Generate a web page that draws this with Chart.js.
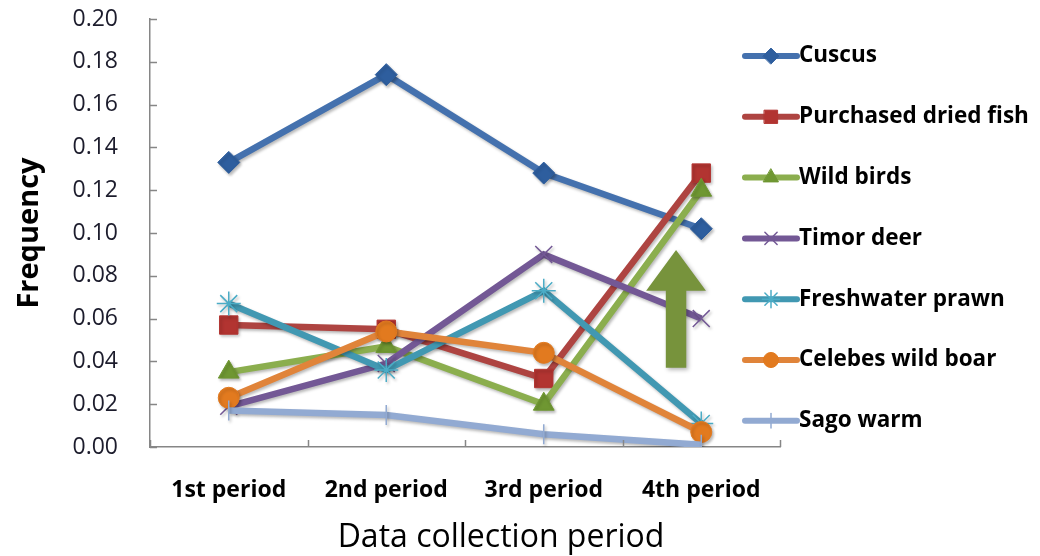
<!DOCTYPE html>
<html>
<head>
<meta charset="utf-8">
<script src="https://cdn.jsdelivr.net/npm/chart.js@4/dist/chart.umd.min.js"></script>
<style>
  html, body { margin: 0; padding: 0; background: #fff; }
  #wrap { width: 1040px; height: 556px; }
</style>
</head>
<body>
<div id="wrap"><canvas id="freqChart" width="1040" height="556"></canvas></div>
<script>
/* ==========================================================
   DATA
========================================================== */

const periods = ["1st period", "2nd period", "3rd period", "4th period"];

const seriesNames = [
    "Cuscus",
    "Purchased dried fish",
    "Wild birds",
    "Timor deer",
    "Freshwater prawn",
    "Celebes wild boar",
    "Sago warm"
];

const cuscus     = [0.133, 0.174, 0.128, 0.102];
const driedFish  = [0.057, 0.055, 0.032, 0.128];
const wildBirds  = [0.035, 0.047, 0.020, 0.120];
const timorDeer  = [0.019, 0.039, 0.090, 0.060];
const prawn      = [0.067, 0.036, 0.073, 0.011];
const wildBoar   = [0.023, 0.054, 0.044, 0.007];
const sagoWarm   = [0.017, 0.015, 0.006, 0.001];

const yTicks = [0, 0.02, 0.04, 0.06, 0.08, 0.10, 0.12, 0.14, 0.16, 0.18, 0.20];


/* ==========================================================
   STYLES
========================================================== */

const FONT = "'Open Sans', Lato, Arial, sans-serif";
const AXIS_GREY = "#868686";

const seriesStyle = [
    { line: "#4471AE", fill: "#2E5E9E", point: "rectRot",  radius: 11, bw: 1 },
    { line: "#AE4441", fill: "#B23431", point: "rect",     radius: 13, bw: 1 },
    { line: "#8BAE4E", fill: "#6F9732", point: "triangle", radius: 12, bw: 1 },
    { line: "#735895", fill: "#735895", point: "crossRot", radius: 12, bw: 1.5 },
    { line: "#4198B2", fill: "#4BACC6", point: "star",     radius: 12, bw: 1.5 },
    { line: "#E0843A", fill: "#E27A1F", point: "circle",   radius: 10.5, bw: 1 },
    { line: "#92AAD2", fill: "#92AAD2", point: "line",     radius: 10, bw: 1.5, rot: 90 }
];

const seriesData = [cuscus, driedFish, wildBirds, timorDeer, prawn, wildBoar, sagoWarm];


/* ==========================================================
   PLUGINS
========================================================== */

// subtle drop shadow like the office chart
const shadowPlugin = {
    id: "shadow",
    beforeDatasetDraw(chart){
        const ctx = chart.ctx;
        ctx.save();
        ctx.shadowColor = "rgba(0,0,0,0.28)";
        ctx.shadowBlur = 3;
        ctx.shadowOffsetX = 1.5;
        ctx.shadowOffsetY = 2;
    },
    afterDatasetDraw(chart){
        chart.ctx.restore();
    }
};

// tick marks on the inside of the axes
const innerTicks = {
    id: "innerTicks",
    afterDraw(chart){
        const ctx = chart.ctx;
        const x = chart.scales.x;
        const y = chart.scales.y;
        const a = chart.chartArea;
        ctx.save();
        ctx.strokeStyle = AXIS_GREY;
        ctx.lineWidth = 1.5;
        ctx.beginPath();
        yTicks.forEach(v => {
            const py = Math.round(y.getPixelForValue(v)) + 0.5;
            ctx.moveTo(a.left, py);
            ctx.lineTo(a.left + 7, py);
        });
        for(let i = 0; i <= periods.length; i++){
            const px = Math.round(x.getPixelForValue(i - 0.5)) + 0.5;
            ctx.moveTo(px, a.bottom);
            ctx.lineTo(px, a.bottom - 7);
        }
        ctx.stroke();
        ctx.restore();
    }
};

// green arrow annotation (placed in data units)
const arrowPlugin = {
    id: "upArrow",
    afterDatasetsDraw(chart, args, opts){
        const x = chart.scales.x;
        const y = chart.scales.y;
        const cx = x.getPixelForValue(opts.at);
        const step = x.getPixelForValue(1) - x.getPixelForValue(0);
        const head = opts.headHalf * step;
        const shaft = opts.shaftHalf * step;
        const tip = y.getPixelForValue(opts.tip);
        const base = y.getPixelForValue(opts.headBase);
        const bottom = y.getPixelForValue(opts.bottom);
        const ctx = chart.ctx;
        ctx.save();
        ctx.shadowColor = "rgba(0,0,0,0.3)";
        ctx.shadowBlur = 4;
        ctx.shadowOffsetX = 2;
        ctx.shadowOffsetY = 2;
        ctx.fillStyle = opts.color;
        ctx.beginPath();
        ctx.moveTo(cx, tip);
        ctx.lineTo(cx + head, base);
        ctx.lineTo(cx + shaft, base);
        ctx.lineTo(cx + shaft, bottom);
        ctx.lineTo(cx - shaft, bottom);
        ctx.lineTo(cx - shaft, base);
        ctx.lineTo(cx - head, base);
        ctx.closePath();
        ctx.fill();
        ctx.restore();
    }
};

// legend sitting over the right edge of the plot
const sideLegend = {
    id: "sideLegend",
    afterDraw(chart, args, opts){
        const ctx = chart.ctx;
        ctx.save();
        chart.data.datasets.forEach((ds, i) => {
            const st = seriesStyle[i];
            const ry = opts.top + i * opts.step;
            ctx.strokeStyle = st.line;
            ctx.lineWidth = 6;
            ctx.lineCap = "round";
            ctx.beginPath();
            ctx.moveTo(opts.left, ry);
            ctx.lineTo(opts.left + opts.lineLen, ry);
            ctx.stroke();
            ctx.fillStyle = st.fill;
            ctx.strokeStyle = st.fill;
            ctx.lineWidth = st.bw;
            Chart.helpers.drawPoint(ctx, {
                pointStyle: st.point,
                radius: st.radius * 0.72,
                rotation: st.rot || 0,
                borderWidth: st.bw
            }, opts.left + opts.lineLen / 2, ry);
            ctx.fillStyle = "#000";
            ctx.font = "bold 22.5px " + FONT;
            ctx.textBaseline = "middle";
            ctx.textAlign = "left";
            ctx.fillText(ds.label, opts.left + opts.lineLen + 2, ry);
        });
        ctx.restore();
    }
};

// x axis title (it sits right of the plot centre in the original)
const xTitle = {
    id: "xTitle",
    afterDraw(chart, args, opts){
        const ctx = chart.ctx;
        ctx.save();
        ctx.fillStyle = "#000";
        ctx.font = "32px " + FONT;
        ctx.textAlign = "center";
        ctx.textBaseline = "middle";
        ctx.fillText(opts.text, opts.x, opts.y);
        ctx.restore();
    }
};


/* ==========================================================
   CHART
========================================================== */

const datasets = seriesNames.map((name, i) => {
    const st = seriesStyle[i];
    return {
        label: name,
        data: seriesData[i],
        borderColor: st.line,
        borderWidth: 6.5,
        backgroundColor: st.fill,
        pointStyle: st.point,
        pointRadius: st.radius,
        pointHoverRadius: st.radius,
        pointRotation: st.rot || 0,
        pointBackgroundColor: st.fill,
        pointBorderColor: st.fill,
        pointBorderWidth: st.bw,
        tension: 0,
        fill: false,
        order: seriesNames.length - i
    };
});

new Chart(document.getElementById("freqChart"), {
    type: "line",
    data: { labels: periods, datasets: datasets },
    plugins: [shadowPlugin, arrowPlugin, innerTicks, sideLegend, xTitle],
    options: {
        responsive: false,
        animation: false,
        layout: { padding: { left: 0, right: 260, top: 19, bottom: 0 } },
        scales: {
            x: {
                offset: true,
                grid: { display: false, drawTicks: false },
                border: { display: true, color: AXIS_GREY, width: 1.5 },
                ticks: {
                    padding: 30,
                    color: "#000",
                    font: { family: FONT, size: 23, weight: "bold" },
                    maxRotation: 0
                },
                afterFit(scale){
                    scale.height = 109;
                    scale.paddingLeft = 0;
                    scale.paddingRight = 0;
                }
            },
            y: {
                min: 0,
                max: 0.2,
                grid: { display: false, drawTicks: false },
                border: { display: true, color: AXIS_GREY, width: 1.5 },
                ticks: {
                    stepSize: 0.02,
                    padding: 32,
                    color: "#1c1c2c",
                    font: { family: FONT, size: 23 },
                    callback: v => Number(v).toFixed(2)
                },
                title: {
                    display: true,
                    text: "Frequency",
                    color: "#000",
                    font: { family: FONT, size: 29, weight: "bold" },
                    padding: { top: 12, bottom: 0 }
                },
                afterFit(scale){
                    scale.width = 150;
                    scale.paddingTop = 0;
                    scale.paddingBottom = 0;
                }
            }
        },
        plugins: {
            legend: { display: false },
            tooltip: { enabled: false },
            upArrow: {
                at: 2.84,
                tip: 0.092,
                headBase: 0.073,
                bottom: 0.037,
                headHalf: 0.19,
                shaftHalf: 0.065,
                color: "#77933C"
            },
            sideLegend: { left: 745, top: 56, step: 60.8, lineLen: 52 },
            xTitle: { text: "Data collection period", x: 501, y: 538 }
        }
    }
});
</script>
</body>
</html>
